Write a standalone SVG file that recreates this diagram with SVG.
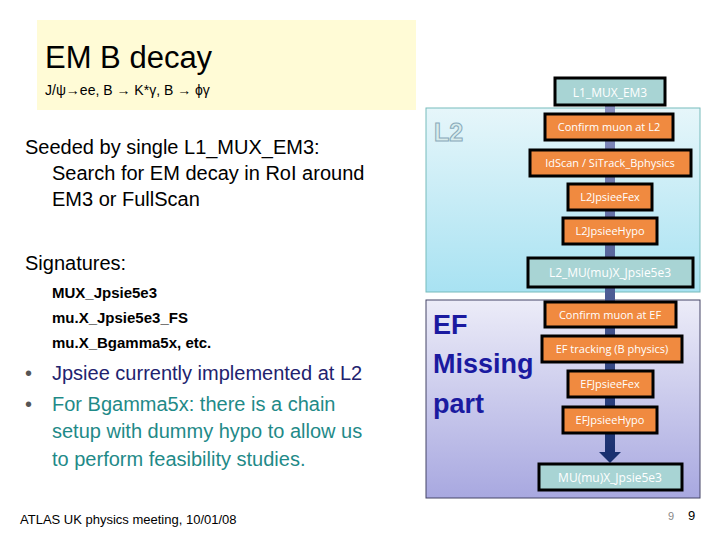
<svg xmlns="http://www.w3.org/2000/svg" width="720" height="540" viewBox="0 0 720 540">
<defs>
<linearGradient id="gL2" x1="0" y1="0" x2="0" y2="1"><stop offset="0" stop-color="#e6f6fa"/><stop offset="1" stop-color="#a8e2f2"/></linearGradient>
<linearGradient id="gEF" x1="0" y1="0" x2="0" y2="1"><stop offset="0" stop-color="#ececf8"/><stop offset="1" stop-color="#a8a8e0"/></linearGradient>
<linearGradient id="gBar" x1="0" y1="0" x2="0" y2="1"><stop offset="0" stop-color="#8890c0"/><stop offset="1" stop-color="#1a3070"/></linearGradient>
<style>
.s{font-family:"Liberation Sans",Arial,sans-serif;fill:#000}
.o rect{fill:#f08a40;stroke:#000;stroke-width:3}
.o text{font-family:"Open Sans","Liberation Sans",sans-serif;font-size:11px;fill:#fff;text-anchor:middle}
.t rect{fill:#a8d4d4;stroke:#000;stroke-width:3}
.t text{font-family:"Open Sans","Liberation Sans",sans-serif;font-size:12px;fill:#fff;text-anchor:middle}
.ef{font-family:"Liberation Sans",Arial,sans-serif;font-weight:bold;font-size:27px;fill:#1a1aa0}
</style>
</defs>
<rect width="720" height="540" fill="#fff"/>
<rect x="37" y="20" width="379" height="90" fill="#fffbd6"/>
<text class="s" x="45" y="68" font-size="31">EM B decay</text>
<text class="s" x="45" y="95" font-size="14">J/ψ→ee, B → K*γ, B → ϕγ</text>
<text class="s" x="25" y="154" font-size="20">Seeded by single L1_MUX_EM3:</text>
<text class="s" x="52" y="180" font-size="20">Search for EM decay in RoI around</text>
<text class="s" x="52" y="206" font-size="20">EM3 or FullScan</text>
<text class="s" x="25" y="270" font-size="20">Signatures:</text>
<text class="s" x="52" y="298" font-size="15" font-weight="bold">MUX_Jpsie5e3</text>
<text class="s" x="52" y="323" font-size="15" font-weight="bold">mu.X_Jpsie5e3_FS</text>
<text class="s" x="52" y="348" font-size="15" font-weight="bold">mu.X_Bgamma5x, etc.</text>
<text class="s" x="25" y="380" font-size="20" style="fill:#555">•</text>
<text class="s" x="52" y="380" font-size="20" style="fill:#22226e">Jpsiee currently implemented at L2</text>
<text class="s" x="25" y="411" font-size="20" style="fill:#555">•</text>
<text class="s" x="52" y="411" font-size="20" style="fill:#1f8a88">For Bgamma5x: there is a chain</text>
<text class="s" x="52" y="438" font-size="20" style="fill:#1f8a88">setup with dummy hypo to allow us</text>
<text class="s" x="52" y="466" font-size="20" style="fill:#1f8a88">to perform feasibility studies.</text>
<text class="s" x="20" y="524" font-size="13">ATLAS UK physics meeting, 10/01/08</text>
<text class="s" x="668" y="520" font-size="11" style="fill:#888">9</text>
<text class="s" x="688" y="520" font-size="13">9</text>
<g id="l2box"><rect x="426" y="108" width="274" height="184" fill="url(#gL2)" stroke="#7bb" stroke-width="1"/>
<text x="434" y="141" font-family="Liberation Sans,sans-serif" font-weight="bold" font-size="25" fill="#d8ecec" stroke="#8ab" stroke-width="1">L2</text></g>
<g id="efbox"><rect x="426" y="300" width="274" height="198" fill="url(#gEF)" stroke="#446" stroke-width="1"/>
<text class="ef" x="433" y="334">EF</text><text class="ef" x="433" y="373">Missing</text><text class="ef" x="433" y="413">part</text></g>
<g id="connectors">
<rect x="605" y="103" width="10" height="350" fill="url(#gBar)"/>
<polygon points="599,452 621,452 610,463" fill="#1a3070"/>
</g>
<g id="n1" class="t"><rect x="555" y="78" width="110" height="27"/><text x="610" y="97">L1_MUX_EM3</text></g>
<g id="n2" class="o"><rect x="545" y="114" width="128" height="26"/><text x="609" y="131">Confirm muon at L2</text></g>
<g id="n3" class="o"><rect x="530" y="150" width="161" height="26"/><text x="610" y="167">IdScan / SiTrack_Bphysics</text></g>
<g id="n4" class="o"><rect x="568" y="184" width="84" height="26"/><text x="610" y="201">L2JpsieeFex</text></g>
<g id="n5" class="o"><rect x="563" y="218" width="94" height="26"/><text x="610" y="235">L2JpsieeHypo</text></g>
<g id="n6" class="t"><rect x="528" y="258" width="165" height="29"/><text x="610" y="277">L2_MU(mu)X_Jpsie5e3</text></g>
<g id="n7" class="o"><rect x="545" y="302" width="131" height="25"/><text x="610" y="319">Confirm muon at EF</text></g>
<g id="n8" class="o"><rect x="542" y="336" width="140" height="26"/><text x="612" y="353">EF tracking (B physics)</text></g>
<g id="n9" class="o"><rect x="568" y="371" width="85" height="26"/><text x="610" y="388">EFJpsieeFex</text></g>
<g id="n10" class="o"><rect x="563" y="407" width="94" height="26"/><text x="610" y="424">EFJpsieeHypo</text></g>
<g id="n11" class="t"><rect x="539" y="464" width="143" height="26"/><text x="610" y="482">MU(mu)X_Jpsie5e3</text></g>
</svg>
